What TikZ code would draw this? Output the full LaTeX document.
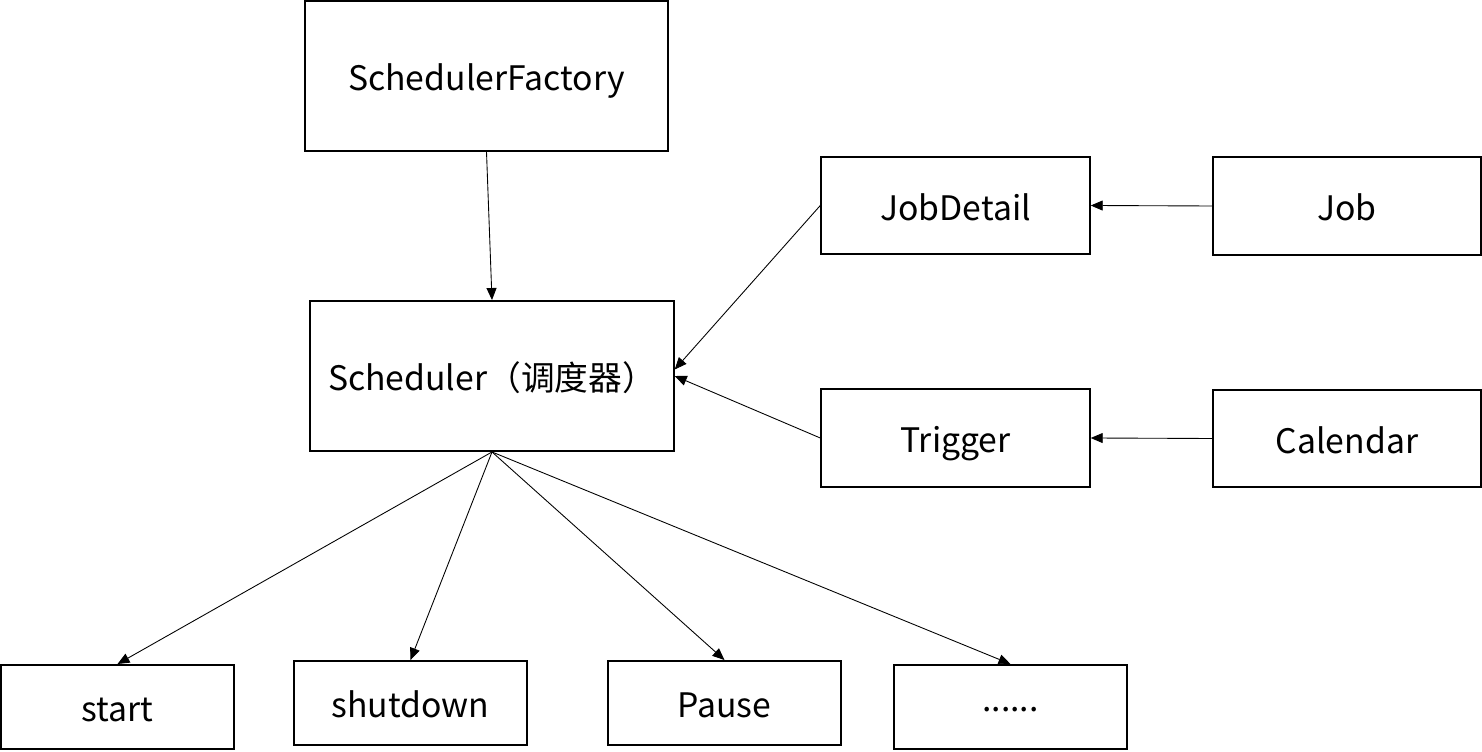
\documentclass[tikz,border=0pt]{standalone}
\usepackage{fontspec}
\newfontfamily\cjkfont{Noto Sans CJK SC}
\usetikzlibrary{arrows.meta,calc,positioning}

\begin{document}
\begin{tikzpicture}[every node/.style={font=\cjkfont\fontsize{19.2}{22}\selectfont},box/.style={draw=black,line width=1.1pt,minimum width=5.37cm,minimum height=1.95cm,align=center,inner sep=0pt,text height=1.85em,text depth=0.15em},bigbox/.style={box,minimum width=7.27cm,minimum height=3cm},opbox/.style={box,minimum width=4.66cm,minimum height=1.68cm},link/.style={draw=black,line width=0.5pt,-{Triangle[length=2.4mm,width=2mm]}}]
\useasboundingbox (0,0) rectangle (29.64,15.04);
\node[bigbox](factory) at (9.73,13.52){SchedulerFactory};
\node[bigbox](sched) at (9.84,7.52){Scheduler（调度器）};
\node[box](jobdetail) at (19.11,10.93){JobDetail};\node[box](job) at (26.94,10.92){Job};
\node[box](trigger) at (19.11,6.28){Trigger};\node[box](calendar) at (26.94,6.27){Calendar};
\node[opbox](start) at (2.35,0.9){start};\node[opbox](shutdown) at (8.21,0.98){shutdown};\node[opbox](pause) at (14.49,0.98){Pause};\node[opbox](more) at (20.21,0.9){\raisebox{0.32em}{......}};
\draw[link](factory.south)--(sched.north);
\draw[link](jobdetail.west)--([yshift=0.13cm]sched.east);\draw[link](trigger.west)--(sched.east);
\draw[link](job.west)--(jobdetail.east);\draw[link](calendar.west)--(trigger.east);
\draw[link](sched.south)--(start.north);\draw[link](sched.south)--(shutdown.north);
\draw[link](sched.south)--(pause.north);\draw[link](sched.south)--(more.north);
\end{tikzpicture}
\end{document}
